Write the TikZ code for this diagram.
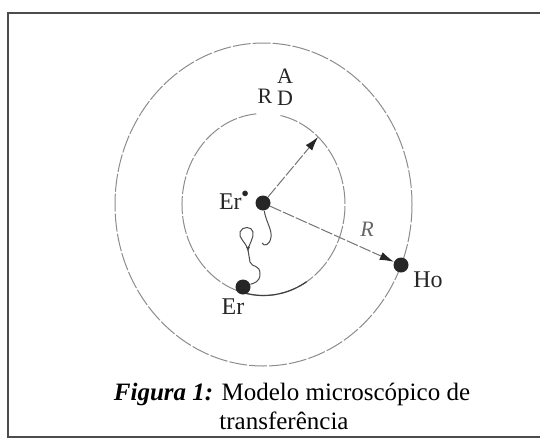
\documentclass[tikz,border=0pt]{standalone}
\usepackage{fontspec}
\setmainfont{Liberation Serif}
\usetikzlibrary{arrows.meta}
\begin{document}
\begin{tikzpicture}[x=0.5pt, y=-0.5pt,
  dot/.style={circle, fill=black!85, inner sep=0pt, minimum size=7.5pt},
  orbit/.style={draw=black!45, line width=0.5pt, dash pattern=on 9pt off 1pt},
  solidorbit/.style={draw=black!75, line width=0.6pt},
  ray/.style={draw=black!55, line width=0.5pt, dash pattern=on 6pt off 1pt, -{Latex[length=7pt,width=4.2pt,fill=black!85,color=black!85]}},
  decay/.style={draw=black!70, line width=0.5pt},
  lbl/.style={font=\fontsize{12}{14}\selectfont, inner sep=0pt, text=black!85},
  frame/.style={draw=black!70, line width=1.2pt}]
\useasboundingbox (0,0) rectangle (540,439);
\draw[frame] (540,13) -- (8,13) -- (8,437) -- (540,437);
\coordinate (c) at (263.5,204.5);
% the two shells
\draw[orbit] (c) ellipse [x radius=148.5, y radius=161.5];
\draw[orbit] (c) ++(-78:81.5 and 91) arc[start angle=-78, end angle=265, x radius=81.5, y radius=91];
\draw[solidorbit] (c) ++(58:81.5 and 91) arc[start angle=58, end angle=104, x radius=81.5, y radius=91];
% ions
\node[dot] (erx) at (263,203) {};
\node[dot] (er) at (243,287) {};
\node[dot] (ho) at (401,265) {};
\coordinate (rtip) at (318,137);
\draw[ray] (erx) -- (rtip);
\draw[ray] (erx) -- (ho);
% relaxation path
\draw[decay] (erx) .. controls (266,222) and (272,229) .. (271,237) .. controls (270,245) and (264,247) .. (262,243);
\draw[decay] (248,250) .. controls (246,242) and (238,238) .. (240,232) .. controls (242,226) and (252,226) .. (253,232) .. controls (254,238) and (249,244) .. (248,250) -- (250,262) .. controls (252,268) and (260,264) .. (260,274) .. controls (260,282) and (254,283) .. (er);
\draw[decay, -{Latex[length=2.5pt,width=2pt]}] (248,246) -- (248,252);
% labels
\node[lbl] (lEx) at (234,200) {Er\raisebox{1.1ex}{\scalebox{0.6}{$\bullet$}}};
\node[lbl] (lEr) at (233,307) {Er};
\node[lbl] (lHo) at (428,280) {Ho};
\node[lbl, font=\fontsize{11}{12}\selectfont\itshape, text=black!60] (lR) at (367,229) {R};
\node[lbl, font=\fontsize{11}{12}\selectfont] (lRd) at (265,96) {R};
\node[lbl, font=\fontsize{11}{12}\selectfont] (lD) at (285,98) {D};
\node[lbl, font=\fontsize{11}{12}\selectfont] (lA) at (285,76) {A};
% caption
\node[anchor=base, inner sep=0pt, font=\fontsize{12.5}{15}\selectfont] (cap1) at (292,400) {\textbf{\textit{Figura 1:}} Modelo microscópico de};
\node[anchor=base, inner sep=0pt, font=\fontsize{12.5}{15}\selectfont] (cap2) at (284,429) {transferência};
\end{tikzpicture}
\end{document}
